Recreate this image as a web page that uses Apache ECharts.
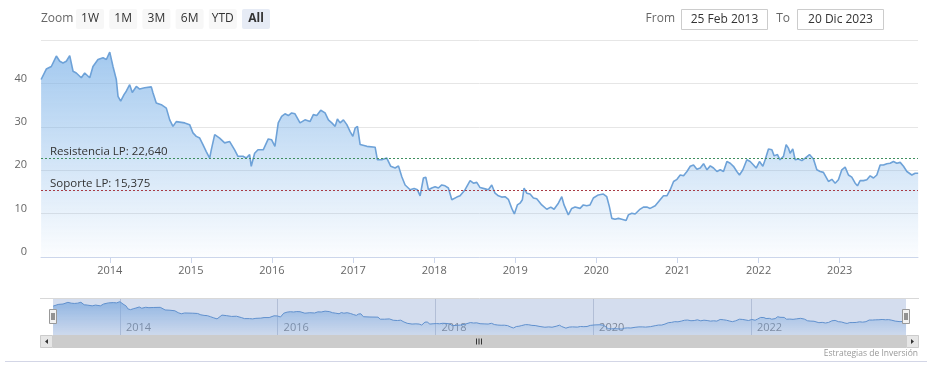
<!DOCTYPE html>
<html><head><meta charset="utf-8">
<script src="https://cdn.jsdelivr.net/npm/echarts@6/dist/echarts.min.js"></script>
<style>html,body{margin:0;padding:0;background:#fff}#c{width:933px;height:380px}</style>
</head><body><div id="c"></div>
<script>
// ---- DATA ----
const dates = [
2013.152,2013.216,2013.278,2013.340,2013.382,2013.422,2013.463,2013.505,2013.546,2013.586,
2013.648,2013.690,2013.752,2013.792,2013.854,2013.916,2013.957,2013.999,2014.039,2014.080,
2014.101,2014.134,2014.175,2014.203,2014.245,2014.277,2014.327,2014.368,2014.430,2014.512,
2014.533,2014.573,2014.635,2014.697,2014.739,2014.779,2014.820,2014.924,2014.985,2015.026,
2015.067,2015.109,2015.149,2015.190,2015.232,2015.252,2015.294,2015.355,2015.417,2015.479,
2015.540,2015.581,2015.643,2015.683,2015.725,2015.745,2015.787,2015.828,2015.893,2015.955,
2015.997,2016.037,2016.078,2016.120,2016.161,2016.202,2016.243,2016.284,2016.346,2016.407,
2016.469,2016.510,2016.552,2016.601,2016.654,2016.695,2016.737,2016.778,2016.806,2016.839,
2016.880,2016.922,2016.963,2016.996,2017.024,2017.053,2017.086,2017.169,2017.271,2017.299,
2017.353,2017.415,2017.464,2017.518,2017.559,2017.600,2017.641,2017.703,2017.752,2017.793,
2017.826,2017.847,2017.867,2017.896,2017.929,2017.970,2018.011,2018.052,2018.093,2018.134,
2018.175,2018.217,2018.279,2018.319,2018.381,2018.443,2018.484,2018.525,2018.566,2018.628,
2018.669,2018.710,2018.751,2018.792,2018.833,2018.874,2018.915,2018.957,2018.989,2019.026,
2019.059,2019.088,2019.109,2019.142,2019.183,2019.224,2019.265,2019.327,2019.389,2019.438,
2019.479,2019.532,2019.574,2019.602,2019.655,2019.697,2019.738,2019.800,2019.840,2019.882,
2019.923,2019.964,2020.025,2020.087,2020.129,2020.161,2020.191,2020.231,2020.272,2020.314,
2020.367,2020.395,2020.437,2020.478,2020.531,2020.580,2020.622,2020.663,2020.725,2020.786,
2020.827,2020.869,2020.910,2020.951,2020.993,2021.033,2021.074,2021.116,2021.157,2021.197,
2021.239,2021.280,2021.321,2021.363,2021.404,2021.444,2021.486,2021.527,2021.567,2021.609,
2021.650,2021.690,2021.732,2021.764,2021.806,2021.855,2021.896,2021.937,2021.970,2022.011,
2022.053,2022.081,2022.122,2022.164,2022.192,2022.233,2022.264,2022.307,2022.340,2022.368,
2022.389,2022.422,2022.451,2022.492,2022.534,2022.575,2022.628,2022.677,2022.719,2022.760,
2022.800,2022.862,2022.904,2022.945,2022.985,2023.027,2023.068,2023.109,2023.150,2023.192,
2023.220,2023.253,2023.294,2023.336,2023.377,2023.418,2023.459,2023.500,2023.541,2023.583,
2023.623,2023.664,2023.706,2023.747,2023.788,2023.830,2023.891,2023.932,2023.969
];
const prices = [
40.9,43.3,43.9,46.3,45.1,44.7,45.1,46.4,42.8,42.4,
41.3,42.4,41.3,43.9,45.5,45.9,45.5,47.2,43.9,40.9,
37.0,35.9,37.4,38.2,39.7,37.9,39.3,38.7,39.0,39.2,
37.8,35.5,35.1,34.3,31.6,30.1,31.2,30.9,30.5,28.6,
27.8,27.4,25.9,24.3,22.8,24.7,28.2,27.4,26.3,26.6,
24.7,23.2,23.2,22.8,23.6,20.9,23.9,24.7,24.7,27.2,
27.0,25.5,30.9,32.4,33.0,32.6,33.2,33.0,30.9,31.6,
31.2,32.8,32.6,33.8,33.2,31.6,30.9,30.1,31.8,30.9,
31.6,30.5,28.9,27.8,29.7,30.1,25.9,25.5,25.3,22.4,
22.4,22.8,20.9,20.5,21.0,18.5,16.6,15.5,15.8,15.5,
14.1,13.9,18.2,18.4,15.5,15.9,16.2,15.9,16.6,16.4,
15.9,13.2,13.8,14.1,15.5,17.6,17.0,17.2,16.0,15.7,
15.5,16.6,14.7,14.1,13.8,13.9,13.3,11.2,9.9,12.0,
12.4,13.2,15.9,14.7,14.5,13.6,13.4,12.0,11.0,11.5,
11.0,12.4,13.9,12.0,9.7,11.2,11.5,11.2,12.0,11.8,
12.0,13.6,14.3,14.5,13.9,11.6,8.9,8.7,8.9,8.7,
8.4,9.7,10.1,9.9,10.9,11.5,11.5,11.2,11.8,13.2,
14.1,14.1,15.5,17.4,17.9,18.9,18.7,19.7,20.9,21.2,
20.2,20.5,21.5,20.1,21.0,20.5,19.7,20.1,19.7,22.0,
21.6,20.9,19.7,18.9,20.1,22.4,22.0,21.2,20.5,22.0,
20.9,22.4,24.9,24.7,23.3,23.6,22.4,23.2,25.9,25.1,
23.9,24.9,22.4,22.6,22.2,22.8,23.6,22.6,20.1,19.7,
19.5,17.4,17.9,17.0,17.8,20.1,20.7,18.9,18.4,17.0,
16.4,17.6,17.6,17.8,18.7,18.2,18.9,21.2,21.2,21.5,
21.6,22.0,21.6,21.8,20.9,19.7,18.9,19.3,19.3
];
const resistance = 22.640;
const support = 15.375;
const yTicks = [0, 10, 20, 30, 40];
const xTickYears = [2014, 2015, 2016, 2017, 2018, 2019, 2020, 2021, 2022, 2023];
const navTickYears = [2014, 2016, 2018, 2020, 2022];
const zoomButtons = ['1W', '1M', '3M', '6M', 'YTD', 'All'];
const fromLabel = '25 Feb 2013';
const toLabel = '20 Dic 2023';
const rangeStart = [2013, 1, 25];
const rangeEnd = [2023, 11, 20];
const creditText = 'Estrategias de Inversión';

// ---- helpers ----
function yearToTime(y) {
  const yr = Math.floor(y);
  const s = Date.UTC(yr, 0, 1), e = Date.UTC(yr + 1, 0, 1);
  return s + (y - yr) * (e - s);
}
const seriesData = dates.map((d, i) => [yearToTime(d), prices[i]]);
const tMin = Date.UTC.apply(null, rangeStart);
const tMax = Date.UTC.apply(null, rangeEnd);
const xTicks = xTickYears.map(y => Date.UTC(y, 0, 1));
const navTicks = navTickYears.map(y => Date.UTC(y, 0, 1));
const fmtNum = v => v.toFixed(3).replace('.', ',');
const yearLabel = v => String(new Date(v).getUTCFullYear());
const FONT = '"Open Sans", "Noto Sans", sans-serif';

// ---- header / navigator chrome ----
const graphics = [];
graphics.push({type:'text', x:41, y:19, style:{text:'Zoom', fill:'#666', font:'12px ' + FONT, verticalAlign:'middle'}});
zoomButtons.forEach((b, i) => {
  const x = 76 + i * 33.2;
  const active = b === 'All';
  graphics.push({type:'rect', shape:{x:x, y:9, width:28, height:20, r:2},
    style:{fill: active ? '#e6ebf5' : '#f7f7f7'}});
  graphics.push({type:'text', x:x + 14, y:19, style:{text:b, fill:'#333',
    font:(active ? 'bold ' : '') + '12px ' + FONT, align:'center', verticalAlign:'middle'}});
});
graphics.push({type:'text', x:675, y:19, style:{text:'From', fill:'#666', font:'12px ' + FONT, align:'right', verticalAlign:'middle'}});
graphics.push({type:'rect', shape:{x:681.5, y:9.5, width:86, height:20}, style:{fill:'#fff', stroke:'#cccccc', lineWidth:1}});
graphics.push({type:'text', x:724.5, y:19.5, style:{text:fromLabel, fill:'#333', font:'12px ' + FONT, align:'center', verticalAlign:'middle'}});
graphics.push({type:'text', x:790, y:19, style:{text:'To', fill:'#666', font:'12px ' + FONT, align:'right', verticalAlign:'middle'}});
graphics.push({type:'rect', shape:{x:797.5, y:9.5, width:86, height:20}, style:{fill:'#fff', stroke:'#cccccc', lineWidth:1}});
graphics.push({type:'text', x:840.5, y:19.5, style:{text:toLabel, fill:'#333', font:'12px ' + FONT, align:'center', verticalAlign:'middle'}});

// navigator outline + mask
graphics.push({type:'line', shape:{x1:40, y1:298.5, x2:919, y2:298.5}, style:{stroke:'#d8d8d8', lineWidth:1}, z:1});
graphics.push({type:'rect', shape:{x:53, y:299, width:853, height:36}, style:{fill:'rgba(102,133,194,0.28)'}, z:50});
// handles
[53, 906].forEach(hx => {
  graphics.push({type:'rect', shape:{x:hx - 3.5, y:309.5, width:7, height:14}, style:{fill:'#f2f2f2', stroke:'#999', lineWidth:1}, z:60});
  graphics.push({type:'line', shape:{x1:hx - 1, y1:313, x2:hx - 1, y2:320}, style:{stroke:'#333', lineWidth:1}, z:61});
  graphics.push({type:'line', shape:{x1:hx + 1, y1:313, x2:hx + 1, y2:320}, style:{stroke:'#333', lineWidth:1}, z:61});
});
// scrollbar
graphics.push({type:'rect', shape:{x:40, y:335, width:879, height:13}, style:{fill:'#f2f2f2'}, z:40});
graphics.push({type:'rect', shape:{x:53, y:335, width:853, height:13}, style:{fill:'#cccccc'}, z:41});
graphics.push({type:'rect', shape:{x:40.5, y:335.5, width:12, height:12}, style:{fill:'#e6e6e6', stroke:'#cccccc', lineWidth:1}, z:41});
graphics.push({type:'rect', shape:{x:906.5, y:335.5, width:12, height:12}, style:{fill:'#e6e6e6', stroke:'#cccccc', lineWidth:1}, z:41});
graphics.push({type:'polygon', shape:{points:[[45,341.5],[48,339],[48,344]]}, style:{fill:'#333'}, z:42});
graphics.push({type:'polygon', shape:{points:[[914,341.5],[911,339],[911,344]]}, style:{fill:'#333'}, z:42});
[476.5, 479, 481.5].forEach(gx => {
  graphics.push({type:'line', shape:{x1:gx, y1:338.5, x2:gx, y2:344.5}, style:{stroke:'#333', lineWidth:1}, z:42});
});
// credit + bottom rule
graphics.push({type:'text', x:918, y:354, style:{text:creditText, fill:'#999', font:'8.5px ' + FONT, align:'right', verticalAlign:'middle'}});
graphics.push({type:'line', shape:{x1:5, y1:361.5, x2:927, y2:361.5}, style:{stroke:'#d3d6e6', lineWidth:1}});

const areaGrad = new echarts.graphic.LinearGradient(0, 0, 0, 1, [
  {offset:0, color:'rgba(124,178,232,1)'},
  {offset:1, color:'rgba(124,178,232,0.04)'}
]);
const navGrad = new echarts.graphic.LinearGradient(0, 0, 0, 1, [
  {offset:0, color:'rgba(124,178,232,1)'},
  {offset:1, color:'rgba(124,178,232,0.1)'}
]);

const option = {
  animation: false,
  textStyle: {fontFamily: FONT},
  grid: [
    {left:41, right:15, top:40, height:217},
    {left:53, right:27, top:299, height:36}
  ],
  xAxis: [
    {type:'value', gridIndex:0, min:tMin, max:tMax, scale:true,
     axisLine:{show:true, lineStyle:{color:'#ccd6eb'}},
     axisTick:{show:true, length:6, customValues:xTicks, lineStyle:{color:'#ccd6eb'}},
     axisLabel:{customValues:xTicks, color:'#666', fontSize:11, margin:8, formatter: yearLabel},
     splitLine:{show:false}},
    {type:'value', gridIndex:1, min:tMin, max:tMax, scale:true,
     axisLine:{show:false},
     axisTick:{show:false, customValues:navTicks},
     axisLabel:{customValues:navTicks, inside:true, align:'left', padding:[0,0,0,6], margin:2,
       color:'#888', fontSize:11, formatter: yearLabel},
     splitLine:{show:true, lineStyle:{color:'#d0d4de', width:1}}}
  ],
  yAxis: [
    {type:'value', gridIndex:0, min:0, max:50, interval:10,
     axisLine:{show:false}, axisTick:{show:false},
     axisLabel:{customValues:yTicks, color:'#666', fontSize:11, margin:14, verticalAlign:'bottom', lineHeight:10},
     splitLine:{show:true, lineStyle:{color:'#e6e6e6'}}},
    {type:'value', gridIndex:1, min:0, max:51, show:false, splitLine:{show:false}}
  ],
  series: [
    {type:'line', xAxisIndex:0, yAxisIndex:0, data:seriesData, showSymbol:false,
     lineStyle:{color:'#6ea2d8', width:1.6}, areaStyle:{color:areaGrad, origin:'start'},
     markLine:{silent:true, symbol:'none', animation:false,
       data:[
         {yAxis:resistance, lineStyle:{color:'#3f8f5f', type:[2,2], width:1},
          label:{formatter:'Resistencia LP: ' + fmtNum(resistance)}},
         {yAxis:support, lineStyle:{color:'#a83b45', type:[2,2], width:1},
          label:{formatter:'Soporte LP: ' + fmtNum(support)}}
       ],
       label:{position:'insideStartTop', color:'#333', fontSize:11.5, distance:[9, 1]}}
    },
    {type:'line', xAxisIndex:1, yAxisIndex:1, data:seriesData, showSymbol:false,
     lineStyle:{color:'#5f95d2', width:1}, areaStyle:{color:navGrad, origin:'start'}}
  ],
  graphic: {elements: graphics}
};
const chart = echarts.init(document.getElementById('c'), null, {renderer:'canvas'});
chart.setOption(option);
</script>
</body></html>
